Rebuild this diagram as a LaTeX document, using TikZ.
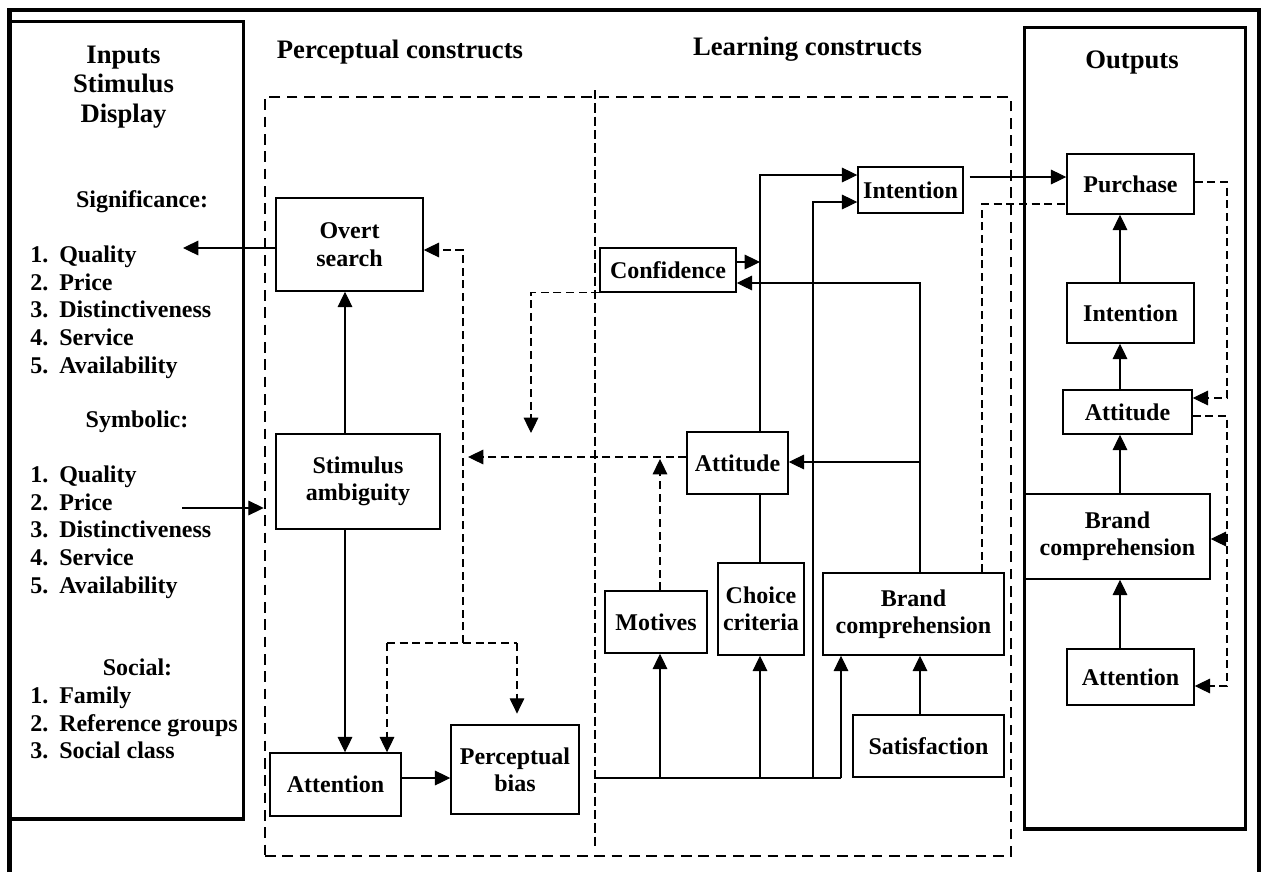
\documentclass[tikz,border=0pt]{standalone}
\usepackage{fontspec}
\setmainfont{Liberation Serif}
\usetikzlibrary{arrows.meta,fit}

\newcommand\bodyfont{\fontsize{18pt}{20.5pt}\selectfont\bfseries}
\newcommand\headfont{\fontsize{20pt}{22pt}\selectfont\bfseries}

\begin{document}
\begin{tikzpicture}[x=0.75pt,y=-0.75pt,
  frame/.style={line width=3.2pt},
  panel/.style={draw,line width=2.3pt,inner sep=0pt},
  zone/.style={draw,line width=1.9pt,dash pattern=on 8pt off 5pt,inner sep=0pt},
  divider/.style={line width=0.8pt,dash pattern=on 7pt off 3pt},
  box/.style={draw,line width=1.1pt,inner sep=0pt,align=center,font=\bodyfont},
  bx/.style 2 args={minimum width=#1*0.75pt,minimum height=#2*0.75pt},
  link/.style={line width=0.8pt},
  fb/.style={line width=0.8pt,dash pattern=on 6pt off 3.5pt},
  arr/.style={-{Triangle[length=11.5pt,width=11pt]}},
  head/.style={font=\headfont,anchor=base,inner sep=0pt},
  item/.style={font=\bodyfont,anchor=base west,inner sep=0pt},
  caption/.style={font=\bodyfont,anchor=base,inner sep=0pt}
]
\useasboundingbox (0,0) rectangle (1261,872);
\fill[white] (0,0) rectangle (1261,872);

% outer frame, open at the bottom
\draw[frame] (9.5,872) -- (9.5,10) -- (1259,10) -- (1259,872);

% panels and the dashed construct zone
\node[panel,fit={(9.5,21.5) (243.5,819)}] (inputs) {};
\node[panel,fit={(1024.3,27.7) (1245.5,829)}] (outputs) {};
\node[zone,fit={(265,97) (1011,856)}] (zone) {};
\draw[divider] (595,90) -- (595,848);

% headings
\foreach \t/\y [count=\i] in {Inputs/63,Stimulus/92.5,Display/122}
  \node[head] (title\i) at (123.5,\y) {\t};
\node[head] (perc) at (400,58) {Perceptual constructs};
\node[head] (learn) at (807.5,55) {Learning constructs};
\node[head] (outs) at (1132,68) {Outputs};

% input lists
\node[caption] (sig) at (142,207) {Significance:};
\foreach \t/\y [count=\i] in {Quality/262,Price/290,Distinctiveness/317,Service/345,Availability/373}
  \node[item] (sigitem\i) at (30,\y) {\makebox[21.75pt][l]{\i.}\t};
\node[caption] (sym) at (137,427) {Symbolic:};
\foreach \t/\y [count=\i] in {Quality/482,Price/510,Distinctiveness/537,Service/565,Availability/593}
  \node[item] (symitem\i) at (30,\y) {\makebox[21.75pt][l]{\i.}\t};
\node[caption] (soc) at (137.5,675) {Social:};
\foreach \t/\y [count=\i] in {Family/703,Reference groups/731,Social class/758}
  \node[item] (socitem\i) at (30,\y) {\makebox[21.75pt][l]{\i.}\t};

% perceptual constructs
\node[box,bx={147}{93}] (overt) at (349.5,244.5) {Overt\\search};
\node[box,bx={164}{95}] (stim) at (358,481.5) {Stimulus\\ambiguity};
\node[box,bx={131}{63}] (attnP) at (335.5,784.5) {Attention};
\node[box,bx={128}{89}] (pbias) at (515,769.5) {Perceptual\\bias};

% learning constructs
\node[box,bx={136}{44}] (conf) at (668,270) {Confidence};
\node[box,bx={101}{62}] (attL) at (737.5,463) {Attitude};
\node[box,bx={102}{62}] (motives) at (656,622) {Motives};
\node[box,bx={86}{92}] (choice) at (761,609) {Choice\\criteria};
\node[box,bx={181}{82}] (brandL) at (913.5,614) {Brand\\comprehension};
\node[box,bx={151}{62}] (satis) at (928.5,746) {Satisfaction};
\node[box,bx={105}{46}] (intL) at (910.5,190) {Intention};

% outputs
\node[box,bx={127}{60}] (purch) at (1130.5,184) {Purchase};
\node[box,bx={127}{60}] (intO) at (1130.5,313) {Intention};
\node[box,bx={129}{44}] (attO) at (1127.5,412) {Attitude};
\node[box,bx={185}{85}] (brandO) at (1117.5,536.5) {Brand\\comprehension};
\node[box,bx={127}{56}] (attnO) at (1130.5,677) {Attention};

% routing columns and rows
\coordinate (qualTip) at (183,248);
\coordinate (inStart) at (182,508);
\coordinate (colA) at (345,0);
\coordinate (rowPB) at (0,778);
\coordinate (rowOv) at (0,250);
\coordinate (fbJ) at (463,643);
\coordinate (fbL) at (387,643);
\coordinate (fbR) at (517,643);
\coordinate (cfTip) at (531,433);
\coordinate (attTip) at (468,457);
\coordinate (colM) at (660,0);
\coordinate (colB) at (760,0);
\coordinate (colE) at (813,0);
\coordinate (colD) at (841,0);
\coordinate (colC) at (920,0);
\coordinate (colF) at (982,0);
\coordinate (colO) at (1120,0);
\coordinate (colR) at (1227,0);
\coordinate (bStart) at (594,778);
\coordinate (rowMt) at (0,459);
\coordinate (rowC1) at (0,262);
\coordinate (rowC2) at (0,283);
\coordinate (rowA) at (0,462);
\coordinate (rowI1) at (0,175);
\coordinate (rowI2) at (0,202);
\coordinate (rowIP) at (0,177);
\coordinate (rowDP) at (0,204);
\coordinate (rowP) at (0,182);
\coordinate (rowA1) at (0,398);
\coordinate (rowA2) at (0,416);
\coordinate (rowAt) at (0,686);
\coordinate (rowB) at (0,539);

% perceptual links
\draw[link,arr] (overt.west |- qualTip) -- (qualTip);
\draw[link,arr] (inStart) -- (zone.west |- inStart);
\draw[link,arr] (stim.north -| colA) -- (overt.south -| colA);
\draw[link,arr] (stim.south -| colA) -- (attnP.north -| colA);
\draw[link,arr] (attnP.east |- rowPB) -- (pbias.west |- rowPB);

% perceptual feedback
\draw[fb,arr] (fbJ) |- (overt.east |- rowOv);
\draw[fb] (fbL) -- (fbR);
\draw[fb,arr] (fbL) -- (attnP.north -| fbL);
\draw[fb,arr,shorten >=8pt] (fbR) -- (pbias.north -| fbR);
\draw[fb,arr] (conf.south west) -| (cfTip);
\draw[fb,arr] (attL.west |- attTip) -- (attTip);
\draw[fb,arr] (motives.north -| colM) -- (colM |- rowMt);

% learning links
\draw[link,arr] (conf.east |- rowC1) -- (colB |- rowC1);
\draw[link,arr] (brandL.north -| colC) |- (conf.east |- rowC2);
\draw[link,arr] (colC |- rowA) -- (attL.east |- rowA);
\draw[link,arr] (attL.north -| colB) |- (intL.west |- rowI1);
\draw[link] (attL.south -| colB) -- (choice.north -| colB);
\draw[link] (bStart) -- (colD |- bStart);
\draw[link,arr] (colM |- bStart) -- (motives.south -| colM);
\draw[link,arr] (colB |- bStart) -- (choice.south -| colB);
\draw[link,arr] (colD |- bStart) -- (brandL.south -| colD);
\draw[link,arr] (colE |- bStart) |- (intL.west |- rowI2);
\draw[link,arr] (satis.north -| colC) -- (brandL.south -| colC);
\draw[link,arr,shorten <=4.5pt] (intL.east |- rowIP) -- (purch.west |- rowIP);
\draw[fb] (brandL.north -| colF) |- (purch.west |- rowDP);

% output hierarchy
\draw[link,arr] (attnO.north -| colO) -- (brandO.south -| colO);
\draw[link,arr] (brandO.north -| colO) -- (attO.south -| colO);
\draw[link,arr] (attO.north -| colO) -- (intO.south -| colO);
\draw[link,arr] (intO.north -| colO) -- (purch.south -| colO);
\draw[fb,arr] (purch.east |- rowP) -| (colR |- rowA1) -- (attO.east |- rowA1);
\draw[fb,arr] (attO.east |- rowA2) -| (colR |- rowAt) -- (attnO.east |- rowAt);
\draw[fb,arr] (colR |- rowB) -- (brandO.east |- rowB);
\end{tikzpicture}
\end{document}
